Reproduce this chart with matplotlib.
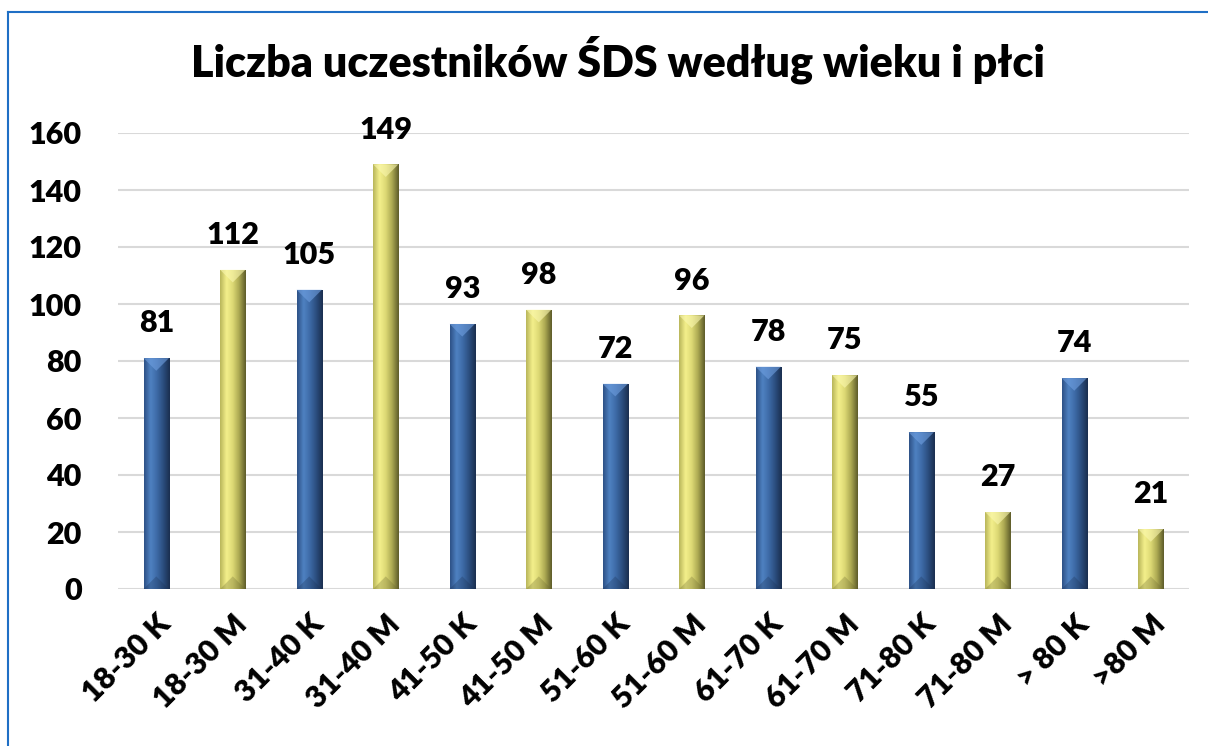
import matplotlib
matplotlib.use('Agg')
import matplotlib.pyplot as plt
import numpy as np
from matplotlib.colors import LinearSegmentedColormap
from matplotlib.lines import Line2D

# data
categories = ['18-30 K', '18-30 M', '31-40 K', '31-40 M', '41-50 K', '41-50 M',
              '51-60 K', '51-60 M', '61-70 K', '61-70 M', '71-80 K', '71-80 M',
              '> 80 K', '>80 M']
values = [81, 112, 105, 149, 93, 98, 72, 96, 78, 75, 55, 27, 74, 21]
title = 'Liczba uczestników ŚDS według wieku i płci'

plt.rcParams['font.family'] = ['Lato', 'DejaVu Sans']
W = 'heavy'

blue_cmap = LinearSegmentedColormap.from_list(
    'blue', ['#2d5186', '#4f82c2', '#3d6aa6', '#2b4d7e', '#1a2f4f'])
yellow_cmap = LinearSegmentedColormap.from_list(
    'yellow', ['#b9b65a', '#f4f08c', '#dcd874', '#a9a650', '#5e5c2a'])
top_colors = {'blue': '#6f9fe0', 'yellow': '#fbf8b0'}
bottom_colors = {'blue': '#1c3356', 'yellow': '#6e6c30'}


def shade_bar(ax, bar, cmap, top_color, bottom_color):
    x0, w, h = bar.get_x(), bar.get_width(), bar.get_height()
    grad = np.linspace(0, 1, 64).reshape(1, -1)
    img = ax.imshow(grad, cmap=cmap, aspect='auto', extent=(x0, x0 + w, 0, h),
                    zorder=3, interpolation='bicubic')
    img.set_clip_path(bar)
    bar.set_alpha(0)
    # bevel caps, roughly square in pixels
    cap = w * 0.5 * (1071 / 14) / (456 / 160)
    ax.fill([x0, x0 + w, x0 + w / 2], [h, h, h - cap], color=top_color,
            alpha=0.6, zorder=4, lw=0)
    ax.fill([x0, x0 + w, x0 + w / 2], [0, 0, cap], color=bottom_color,
            alpha=0.3, zorder=4, lw=0)


fig = plt.figure(figsize=(12.08, 7.46), dpi=100)
ax = fig.add_axes([118 / 1208, 157 / 746, 1071 / 1208, 456 / 746])

x = np.arange(len(categories))
bars = ax.bar(x, values, width=0.33, zorder=3)
for i, b in enumerate(bars):
    key = 'blue' if i % 2 == 0 else 'yellow'
    shade_bar(ax, b, blue_cmap if key == 'blue' else yellow_cmap,
              top_colors[key], bottom_colors[key])
    ax.annotate(str(values[i]), (b.get_x() + b.get_width() / 2, values[i]),
                xytext=(0, 15), textcoords='offset points', ha='center',
                va='bottom', fontsize=22, fontweight=W)

ax.set_xlim(-0.5, len(categories) - 0.5)
ax.set_ylim(0, 160)
ax.set_yticks(range(0, 161, 20))
ax.yaxis.grid(True, color='#d9d9d9', linewidth=1.5, zorder=0)
ax.set_axisbelow(True)
for s in ax.spines.values():
    s.set_visible(False)
ax.tick_params(axis='both', length=0)
ax.tick_params(axis='y', pad=26)
ax.set_yticklabels([str(v) for v in range(0, 161, 20)], fontweight=W,
                   fontsize=22)
ax.set_xticks(x)
ax.set_xticklabels(categories, rotation=45, ha='right', rotation_mode='anchor',
                   fontsize=22, fontweight=W)
ax.tick_params(axis='x', pad=15)

fig.text(618 / 1208, 1 - 77 / 746, title, ha='center', va='baseline',
         fontsize=31, fontweight=W)

# blue frame on left and top
fig.add_artist(Line2D([8 / 1208, 8 / 1208], [0, 1 - 12 / 746],
                      transform=fig.transFigure, color='#1f6fc5', lw=1.5))
fig.add_artist(Line2D([8 / 1208, 1], [1 - 12 / 746, 1 - 12 / 746],
                      transform=fig.transFigure, color='#1f6fc5', lw=1.5))

fig.savefig('out.png', dpi=100)
